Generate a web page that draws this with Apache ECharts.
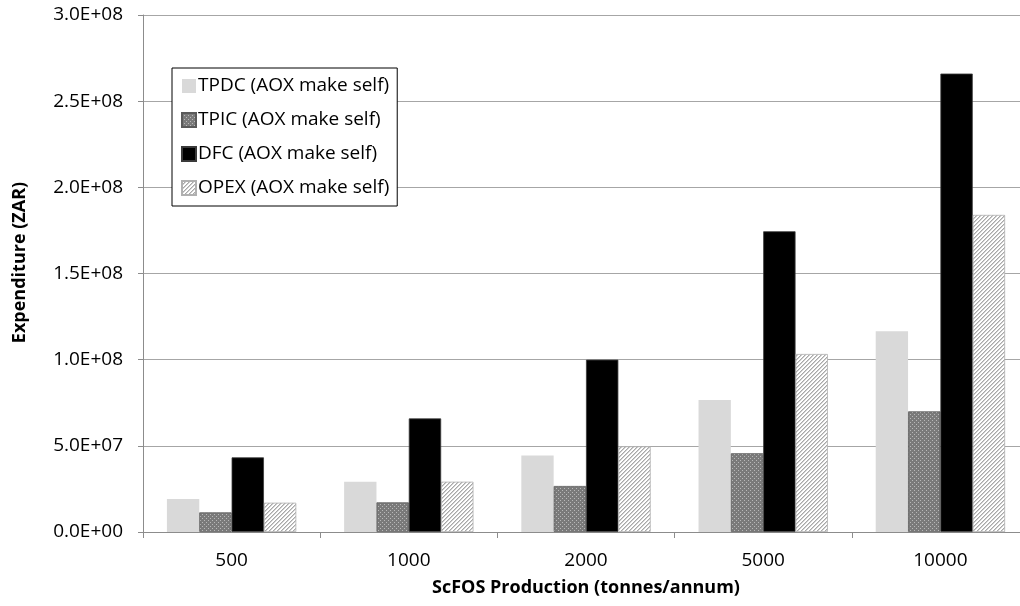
<!DOCTYPE html>
<html>
<head>
<meta charset="utf-8">
<script src="https://cdn.jsdelivr.net/npm/echarts@6/dist/echarts.min.js"></script>
<style>
  html, body { margin: 0; padding: 0; background: #ffffff; overflow: hidden; }
  /* the plot runs a little past the right edge of the window */
  #chart { width: 1029px; height: 606px; }
</style>
</head>
<body>
<div id="chart"></div>
<script>
// Production capacities (tonnes/annum)
const categories = ['500', '1000', '2000', '5000', '10000'];

// Cost components, ZAR
const seriesNames = [
  'TPDC (AOX make self)',
  'TPIC (AOX make self)',
  'DFC (AOX make self)',
  'OPEX (AOX make self)'
];
const tpdc = [1.91e7, 2.92e7, 4.44e7, 7.66e7, 1.165e8];
const tpic = [1.14e7, 1.72e7, 2.67e7, 4.57e7, 7.0e7];
const dfc  = [4.33e7, 6.59e7, 1.0e8, 1.745e8, 2.66e8];
const opex = [1.70e7, 2.92e7, 4.97e7, 1.033e8, 1.84e8];

// Value axis tick labels, 0 to 3.0E+08 in steps of 5.0E+07
const yTickLabels = ['0.0E+00', '5.0E+07', '1.0E+08', '1.5E+08', '2.0E+08', '2.5E+08', '3.0E+08'];

const FONT = '"Open Sans", "Liberation Sans", sans-serif';

// Fine dot fill for the TPIC bars
function dotPattern() {
  const c = document.createElement('canvas');
  c.width = 4; c.height = 4;
  const g = c.getContext('2d');
  g.fillStyle = '#7a7a7a';
  g.fillRect(0, 0, 4, 4);
  g.fillStyle = '#b8b8b8';
  g.fillRect(0, 0, 1, 1);
  g.fillRect(2, 2, 1, 1);
  return c;
}

// Light diagonal hatch for the OPEX bars
function hatchPattern() {
  const c = document.createElement('canvas');
  c.width = 4; c.height = 4;
  const g = c.getContext('2d');
  g.fillStyle = '#ffffff';
  g.fillRect(0, 0, 4, 4);
  g.fillStyle = '#a8a8a8';
  for (let i = 0; i < 4; i++) {
    g.fillRect(3 - i, i, 1, 1);
  }
  g.fillStyle = '#d0d0d0';
  for (let i = 0; i < 4; i++) {
    g.fillRect((4 - i) % 4, i, 1, 1);
  }
  return c;
}

const styles = [
  { color: '#d9d9d9' },
  { color: { image: dotPattern(), repeat: 'repeat' }, borderColor: '#5a5a5a', borderWidth: 0.8 },
  { color: '#000000', borderColor: '#3a3a3a', borderWidth: 0.8 },
  { color: { image: hatchPattern(), repeat: 'repeat' }, borderColor: '#b0b0b0', borderWidth: 0.8 }
];
const values = [tpdc, tpic, dfc, opex];

const chart = echarts.init(document.getElementById('chart'), null, { renderer: 'canvas' });

chart.setOption({
  animation: false,
  backgroundColor: '#ffffff',
  textStyle: { fontFamily: FONT },
  grid: { left: 143, right: 0, top: 15, bottom: 74, containLabel: false },
  legend: {
    orient: 'vertical',
    left: 172,
    top: 68,
    padding: [7, 8, 7, 9],
    itemGap: 12,
    itemWidth: 14,
    itemHeight: 14,
    icon: 'rect',
    backgroundColor: '#ffffff',
    borderColor: '#000000',
    borderWidth: 1,
    borderRadius: 0,
    textStyle: { fontFamily: FONT, fontSize: 19, color: '#000000', padding: [0, 0, 0, -3], lineHeight: 22 },
    data: seriesNames
  },
  xAxis: {
    type: 'category',
    data: categories,
    name: 'ScFOS Production (tonnes/annum)',
    nameLocation: 'middle',
    nameGap: 47,
    nameTextStyle: { fontFamily: FONT, fontSize: 18, fontWeight: 'bold', color: '#000000' },
    axisLine: { lineStyle: { color: '#8c8c8c', width: 1 } },
    axisTick: { show: true, length: 6, lineStyle: { color: '#8c8c8c' } },
    axisLabel: { fontFamily: FONT, fontSize: 19, color: '#000000', margin: 19 }
  },
  yAxis: {
    type: 'value',
    min: 0,
    max: 3e8,
    interval: 5e7,
    name: 'Expenditure (ZAR)',
    nameLocation: 'middle',
    nameGap: 114,
    nameRotate: 90,
    nameTextStyle: { fontFamily: FONT, fontSize: 18, fontWeight: 'bold', color: '#000000', padding: [0, 0, 0, 22] },
    axisLine: { show: true, lineStyle: { color: '#8c8c8c', width: 1 } },
    axisTick: { show: true, length: 5, lineStyle: { color: '#8c8c8c' } },
    axisLabel: {
      fontFamily: FONT, fontSize: 19, color: '#000000', margin: 20,
      formatter: (v) => yTickLabels[Math.round(v / 5e7)]
    },
    splitLine: { show: true, lineStyle: { color: '#a6a6a6', width: 1 } }
  },
  series: values.map((d, i) => ({
    name: seriesNames[i],
    type: 'bar',
    data: d,
    barGap: '0%',
    barCategoryGap: '27%',
    itemStyle: styles[i]
  }))
});
</script>
</body>
</html>
